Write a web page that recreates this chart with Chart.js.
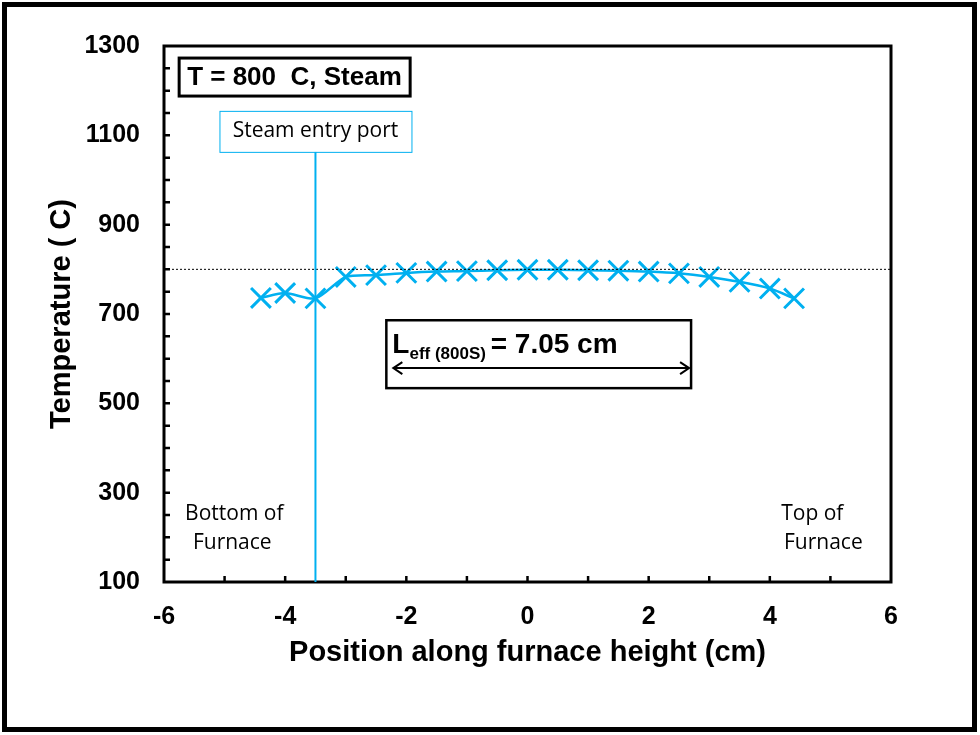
<!DOCTYPE html>
<html>
<head>
<meta charset="utf-8">
<script src="https://cdn.jsdelivr.net/npm/chart.js@4.4.1/dist/chart.umd.min.js"></script>
<style>
  body { margin: 0; background: #fff; }
  canvas { display: block; }
</style>
</head>
<body>
<canvas id="furnaceGraph" width="980" height="735"></canvas>
<script>
// measured temperature profile along the furnace, 800 C with steam
var positions = [-4.4, -4, -3.5, -3, -2.5, -2, -1.5, -1, -0.5, 0, 0.5, 1, 1.5, 2, 2.5, 3, 3.5, 4, 4.4];
var temperatures = [736, 747, 735, 783, 787, 792, 795, 796, 798, 799, 799, 798, 797, 795, 791, 783, 772, 757, 735];
var setPoint = 800;
var steamPort = -3.5;
var xTicks = [-6, -4, -2, 0, 2, 4, 6];
var yTicks = [100, 300, 500, 700, 900, 1100, 1300];

var blue = '#00B0F0';
var arial = '"Liberation Sans", Arial, sans-serif';
var calibri = '"Open Sans", "Noto Sans", sans-serif';

// draws the frame, inward ticks, set point line and the text boxes
var extrasPlugin = {
    id: 'extras',
    afterDraw: function(chart) {
        var ctx = chart.ctx;
        var xs = chart.scales.x, ys = chart.scales.y;
        var a = chart.chartArea;
        ctx.save();

        // outer frame
        ctx.strokeStyle = '#000';
        ctx.lineWidth = 5;
        ctx.strokeRect(4.5, 4.5, 970, 725);

        // dotted set point line
        ctx.lineWidth = 1;
        ctx.setLineDash([2, 2]);
        var yp = ys.getPixelForValue(setPoint);
        ctx.beginPath();
        ctx.moveTo(a.left, yp); ctx.lineTo(a.right, yp);
        ctx.stroke();
        ctx.setLineDash([]);

        // plot box
        ctx.lineWidth = 3;
        ctx.strokeRect(a.left, a.top, a.right - a.left, a.bottom - a.top);

        // inward minor ticks
        ctx.lineWidth = 2.5;
        ctx.beginPath();
        for (var v = 150; v < 1300; v += 50) {
            var py = ys.getPixelForValue(v);
            ctx.moveTo(a.left, py); ctx.lineTo(a.left + 6, py);
        }
        for (var u = -5; u < 6; u++) {
            var px = xs.getPixelForValue(u);
            ctx.moveTo(px, a.bottom); ctx.lineTo(px, a.bottom - 6);
        }
        ctx.stroke();

        // steam entry port line and label
        var sx = xs.getPixelForValue(steamPort);
        var boxBottom = ys.getPixelForValue(1063);
        ctx.strokeStyle = blue;
        ctx.lineWidth = 2;
        ctx.beginPath();
        ctx.moveTo(sx, boxBottom); ctx.lineTo(sx, a.bottom);
        ctx.stroke();
        ctx.lineWidth = 1;
        ctx.fillStyle = '#fff';
        ctx.fillRect(sx - 96, boxBottom - 41, 192, 41);
        ctx.strokeRect(sx - 96 + 0.5, boxBottom - 41 + 0.5, 192, 41);
        ctx.fillStyle = '#000';
        ctx.font = '21px ' + calibri;
        ctx.textAlign = 'center';
        ctx.textBaseline = 'middle';
        ctx.fillText('Steam entry port', sx, boxBottom - 21);

        // condition box
        var tx = xs.getPixelForValue(-5.75), ty = ys.getPixelForValue(1273);
        ctx.strokeStyle = '#000';
        ctx.lineWidth = 3;
        ctx.fillStyle = '#fff';
        ctx.fillRect(tx, ty, 231, 38);
        ctx.strokeRect(tx, ty, 231, 38);
        ctx.fillStyle = '#000';
        ctx.font = 'bold 26px ' + arial;
        ctx.textAlign = 'left';
        ctx.fillText('T = 800  C, Steam', tx + 8, ty + 20);

        // effective length box
        var lx1 = xs.getPixelForValue(-2.33), lx2 = xs.getPixelForValue(2.7);
        var ly1 = ys.getPixelForValue(686), ly2 = ys.getPixelForValue(534);
        ctx.lineWidth = 2.5;
        ctx.strokeRect(lx1, ly1, lx2 - lx1, ly2 - ly1);
        ctx.textBaseline = 'alphabetic';
        ctx.font = 'bold 28px ' + arial;
        ctx.fillText('L', lx1 + 6, ly1 + 33);
        var w = ctx.measureText('L').width;
        ctx.font = 'bold 17px ' + arial;
        ctx.fillText('eff (800S)', lx1 + 6 + w, ly1 + 39);
        var w2 = ctx.measureText('eff (800S) ').width;
        ctx.font = 'bold 28px ' + arial;
        ctx.fillText('= 7.05 cm', lx1 + 6 + w + w2, ly1 + 33);

        // double arrow
        var ay = ys.getPixelForValue(579);
        var ax1 = lx1 + 7, ax2 = lx2 - 2;
        ctx.lineWidth = 2;
        ctx.beginPath();
        ctx.moveTo(ax1, ay); ctx.lineTo(ax2, ay);
        ctx.moveTo(ax1 + 9, ay - 6); ctx.lineTo(ax1, ay); ctx.lineTo(ax1 + 9, ay + 6);
        ctx.moveTo(ax2 - 9, ay - 6); ctx.lineTo(ax2, ay); ctx.lineTo(ax2 - 9, ay + 6);
        ctx.stroke();

        // furnace end labels
        ctx.font = '21px ' + calibri;
        ctx.textAlign = 'center';
        ctx.textBaseline = 'middle';
        var bx = xs.getPixelForValue(-4.84);
        ctx.fillText('Bottom of', bx, ys.getPixelForValue(252));
        ctx.fillText('Furnace', bx - 2, ys.getPixelForValue(187));
        var rx = xs.getPixelForValue(4.85);
        ctx.fillText('Top of', rx - 9, ys.getPixelForValue(252));
        ctx.fillText('Furnace', rx + 2, ys.getPixelForValue(187));

        ctx.restore();
    }
};

var points = positions.map(function(x, i) { return { x: x, y: temperatures[i] }; });

var furnaceConfig = {
    type: 'scatter',
    data: {
        datasets: [{
            data: points,
            showLine: true,
            borderColor: blue,
            backgroundColor: blue,
            borderWidth: 2.5,
            tension: 0.25,
            pointStyle: 'crossRot',
            pointRadius: 14,
            pointBorderWidth: 3,
            pointBorderColor: blue
        }]
    },
    options: {
        responsive: false,
        animation: false,
        layout: { padding: { left: 0, right: 89, top: 46, bottom: 0 } },
        plugins: {
            legend: { display: false },
            tooltip: { enabled: false }
        },
        scales: {
            x: {
                type: 'linear',
                min: -6,
                max: 6,
                afterBuildTicks: function(scale) {
                    scale.ticks = xTicks.map(function(v) { return { value: v }; });
                },
                afterFit: function(scale) { scale.height = 153; },
                grid: { display: false, drawTicks: false },
                border: { display: false },
                ticks: {
                    padding: 20,
                    color: '#000',
                    callback: function(v) { return String(v); },
                    font: { family: arial, size: 25, weight: 'bold' }
                },
                title: {
                    display: true,
                    text: 'Position along furnace height (cm)',
                    color: '#000',
                    padding: { top: 0, bottom: 65 },
                    font: { family: arial, size: 29, weight: 'bold' }
                }
            },
            y: {
                type: 'linear',
                min: 100,
                max: 1300,
                afterBuildTicks: function(scale) {
                    scale.ticks = yTicks.map(function(v) { return { value: v }; });
                },
                afterFit: function(scale) { scale.width = 164; },
                grid: { display: false, drawTicks: false },
                border: { display: false },
                ticks: {
                    padding: 24,
                    color: '#000',
                    callback: function(v) { return String(v); },
                    font: { family: arial, size: 25, weight: 'bold' }
                },
                title: {
                    display: true,
                    text: 'Temperature ( C)',
                    color: '#000',
                    padding: { top: 45, bottom: 0 },
                    font: { family: arial, size: 29, weight: 'bold' }
                }
            }
        }
    },
    plugins: [extrasPlugin]
};

var furnaceCtx = document.getElementById('furnaceGraph');
var furnaceChart = new Chart(furnaceCtx, furnaceConfig);
</script>
</body>
</html>
